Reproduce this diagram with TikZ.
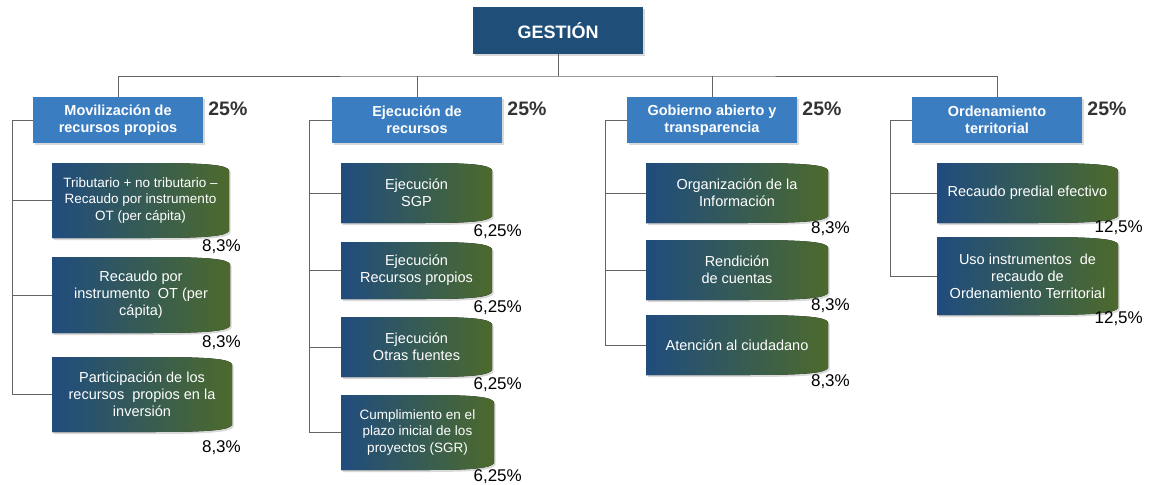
\documentclass[tikz,border=0pt]{standalone}
\usepackage{fontspec}
\setmainfont{Liberation Sans}
\usetikzlibrary{shadows}

\definecolor{azulosc}{RGB}{31,78,121}
\definecolor{azulcla}{RGB}{58,125,193}
\definecolor{azulh}{RGB}{32,76,126}
\definecolor{verdeh}{RGB}{76,106,44}
\definecolor{gris}{RGB}{100,100,100}

\tikzset{
  sombra/.style={drop shadow={opacity=0.3,shadow xshift=1.5pt,shadow yshift=-2pt}},
  raiz/.style={fill=azulosc,text=white,font=\bfseries\fontsize{18}{21}\selectfont,
    minimum width=170pt,minimum height=47pt,inner sep=0pt,sombra},
  eje/.style={fill=azulcla,text=white,align=center,font=\bfseries\fontsize{14.5}{17}\selectfont,
    minimum width=170pt,minimum height=46pt,inner sep=0pt,sombra},
  hoja fondo/.style={left color=azulh,right color=verdeh,sombra},
  hoja texto/.style={text=white,align=center,font=\fontsize{14.5}{17}\selectfont,inner sep=0pt},
  peso/.style={font=\bfseries\fontsize{19.5}{22}\selectfont,text=black!80,inner sep=0pt,anchor=west},
  pct/.style={font=\fontsize{17}{20}\selectfont,inner sep=0pt,anchor=east},
  linea/.style={draw=gris,line width=0.8pt}
}

% [opciones]{nombre}{x izq}{y sup}{x der}{y inf}{texto}
\newcommand{\hoja}[7][]{%
  \fill[hoja fondo] (#3,#4) -- ({#3+0.55*(#5-#3)},#4)
    .. controls ({#5-0.12*(#5-#3)},#4) and (#5-3,#4+2) .. (#5,#4+7)
    -- (#5,#6-7)
    .. controls (#5-3,#6-2) and ({#5-0.12*(#5-#3)},#6) .. ({#3+0.55*(#5-#3)},#6)
    -- (#3,#6) -- cycle;
  \node[hoja texto,minimum width={(#5-#3)*1pt},minimum height={(#6-#4)*1pt},#1]
    (#2) at ({(#3+#5)/2},{(#4+#6)/2}) {#7};
}

\begin{document}
\begin{tikzpicture}[x=1pt,y=-1pt]
\useasboundingbox (0,0) rectangle (1155,484);

\node[raiz] (gestion) at (558,30.5) {GESTIÓN};
\coordinate (barra) at (558,76);

\node[eje] (mov) at (118,120) {Movilización de\\recursos propios};
\node[eje] (ejec) at (417,120) {Ejecución de\\recursos};
\node[eje] (gob) at (712,120) {Gobierno abierto y\\transparencia};
\node[eje] (ord) at (997,120) {Ordenamiento\\territorial};

\node[peso] (pmov) at ([xshift=5pt,yshift=-12pt]mov.north east) {25\%};
\node[peso] (pejec) at ([xshift=5pt,yshift=-12pt]ejec.north east) {25\%};
\node[peso] (pgob) at ([xshift=5pt,yshift=-12pt]gob.north east) {25\%};
\node[peso] (pord) at ([xshift=5pt,yshift=-12pt]ord.north east) {25\%};

\draw[linea] (gestion.south) -- (barra);
\draw[linea] (mov.north) |- (barra) -| (ord.north);
\draw[linea] (ejec.north) -- (ejec.north |- barra);
\draw[linea] (gob.north) -- (gob.north |- barra);

% movilizacion
\hoja[font=\fontsize{13.5}{16.5}\selectfont]{m1}{52}{163}{229}{238}{Tributario + no tributario –\\Recaudo por instrumento\\OT (per cápita)}
\hoja{m2}{52}{257}{230}{333}{Recaudo por\\instrumento~ OT (per\\cápita)}
\hoja{m3}{52}{357}{232}{432}{Participación de los\\recursos~ propios en la\\inversión}
\node[pct] (pm1) at (241,247) {8,3\%};
\node[pct] (pm2) at (241,343) {8,3\%};
\node[pct] (pm3) at (241,448) {8,3\%};

% ejecucion
\hoja{e1}{341}{163}{492}{223}{Ejecución\\SGP}
\hoja{e2}{341}{242}{492}{299}{Ejecución\\Recursos propios}
\hoja{e3}{341}{317}{492}{377}{Ejecución\\Otras fuentes}
\hoja[font=\fontsize{13.5}{16.5}\selectfont]{e4}{341}{395}{494}{470}{Cumplimiento en el\\plazo inicial de los\\proyectos (SGR)}
\node[pct] (pe1) at (522,232) {6,25\%};
\node[pct] (pe2) at (522,308) {6,25\%};
\node[pct] (pe3) at (522,385) {6,25\%};
\node[pct] (pe4) at (522,477) {6,25\%};

% gobierno abierto
\hoja{g1}{646}{163}{828}{223}{Organización de la\\Información}
\hoja{g2}{646}{240}{828}{300}{Rendición\\de cuentas}
\hoja{g3}{646}{315}{828}{375}{Atención al ciudadano}
\node[pct] (pg1) at (850,229) {8,3\%};
\node[pct] (pg2) at (850,306) {8,3\%};
\node[pct] (pg3) at (850,382) {8,3\%};

% ordenamiento
\hoja{o1}{937}{163}{1118}{223}{Recaudo predial efectivo}
\hoja{o2}{937}{237}{1118}{315}{Uso instrumentos~ de\\recaudo de\\Ordenamiento Territorial}
\node[pct] (po1) at (1143,228) {12,5\%};
\node[pct] (po2) at (1143,319) {12,5\%};

% llaves laterales
\coordinate (mx) at (12,0);
\coordinate (ex) at (309,0);
\coordinate (gx) at (605,0);
\coordinate (ox) at (890,0);
\draw[linea] (mov.west) -| (mx |- m3.west) -- (m3.west);
\foreach \h in {m1,m2} \draw[linea] (\h.west) -- (mx |- \h.west);
\draw[linea] (ejec.west) -| (ex |- e4.west) -- (e4.west);
\foreach \h in {e1,e2,e3} \draw[linea] (\h.west) -- (ex |- \h.west);
\draw[linea] (gob.west) -| (gx |- g3.west) -- (g3.west);
\foreach \h in {g1,g2} \draw[linea] (\h.west) -- (gx |- \h.west);
\draw[linea] (ord.west) -| (ox |- o2.west) -- (o2.west);
\draw[linea] (o1.west) -- (ox |- o1.west);
\end{tikzpicture}
\end{document}
